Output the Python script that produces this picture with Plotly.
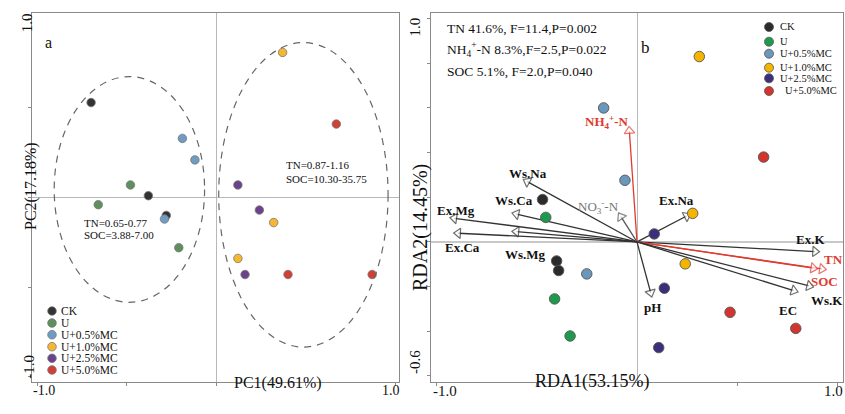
import plotly.graph_objects as go

W, H = 845, 414
SERIF = "Liberation Serif, Times New Roman, serif"
SANS = "Liberation Sans Narrow, Liberation Sans, Arial, sans-serif"

groups = ["CK", "U", "U+0.5%MC", "U+1.0%MC", "U+2.5%MC", "U+5.0%MC"]
colors_a = ["#333333", "#5e8f5c", "#6f9cc2", "#f5b731", "#6b438c", "#d23f35"]
colors_b = ["#2b2b2b", "#1e9a4c", "#6b97bb", "#f4b400", "#3b2f7c", "#d3352e"]

# Panel a: PCA scores
pc1 = {
    "CK": [-0.70, -0.38, -0.28],
    "U": [-0.48, -0.66, -0.21],
    "U+0.5%MC": [-0.19, -0.12, -0.29],
    "U+1.0%MC": [0.37, 0.32, 0.12],
    "U+2.5%MC": [0.12, 0.24, 0.16],
    "U+5.0%MC": [0.67, 0.40, 0.87],
}
pc2 = {
    "CK": [0.53, 0.01, -0.10],
    "U": [0.07, -0.04, -0.28],
    "U+0.5%MC": [0.33, 0.21, -0.12],
    "U+1.0%MC": [0.81, -0.14, -0.34],
    "U+2.5%MC": [0.07, -0.07, -0.43],
    "U+5.0%MC": [0.41, -0.43, -0.43],
}
# confidence ellipses (center x, center y, radius x, radius y)
ellipse_cx = [-0.486, 0.486]
ellipse_cy = [0.045, 0.015]
ellipse_rx = [0.42, 0.473]
ellipse_ry = [0.63, 0.85]

# Panel b: RDA sample scores
rda1 = {
    "CK": [-0.47, -0.40, -0.39],
    "U": [-0.454, -0.41, -0.333],
    "U+0.5%MC": [-0.166, -0.06, -0.25],
    "U+1.0%MC": [0.31, 0.277, 0.24],
    "U+2.5%MC": [0.086, 0.136, 0.108],
    "U+5.0%MC": [0.63, 0.463, 0.79],
}
rda2 = {
    "CK": [0.19, -0.085, -0.128],
    "U": [0.11, -0.255, -0.421],
    "U+0.5%MC": [0.60, 0.276, -0.143],
    "U+1.0%MC": [0.83, 0.128, -0.098],
    "U+2.5%MC": [0.036, -0.207, -0.473],
    "U+5.0%MC": [0.38, -0.315, -0.387],
}
# environmental variable arrows
env_names = ["NH<sub>4</sub><sup>+</sup>-N", "Ws.Na", "Ws.Ca", "NO<sub>3</sub><sup>-</sup>-N", "Ex.Mg",
             "Ex.Ca", "Ws.Mg", "Ex.Na", "pH", "Ex.K", "TN", "SOC", "Ws.K", "EC"]
env_x = [-0.038, -0.546, -0.60, -0.08, -0.909, -0.89, -0.60, 0.247, 0.068, 0.886, 0.92, 0.877, 0.857, 0.78]
env_y = [0.497, 0.27, 0.125, 0.113, 0.106, 0.039, 0.046, 0.116, -0.227, -0.043, -0.121, -0.117, -0.197, -0.218]
env_lab_x = [-0.151, -0.541, -0.612, -0.194, -0.900, -0.866, -0.557, 0.199, 0.076, 0.861, 0.977, 0.935, 0.947, 0.753]
env_lab_y = [0.539, 0.308, 0.185, 0.158, 0.143, -0.024, -0.054, 0.184, -0.292, 0.012, -0.077, -0.175, -0.26, -0.305]
env_sig = [True, False, False, False, False, False, False, False, False, False, True, True, False, False]
env_minor = [False, False, False, True, False, False, False, False, False, False, False, False, False, False]

stats_lines = ["TN 41.6%, F=11.4,P=0.002",
               "NH<sub>4</sub><sup>+</sup>-N 8.3%,F=2.5,P=0.022",
               "SOC 5.1%, F=2.0,P=0.040"]

xa_ticks = [-1.0, -0.5, 0, 0.5, 1.0]
ya_ticks = [-1.0, -0.5, 0, 0.5, 1.0]
xb_ticks = [-1.0, -0.5, 0, 0.5, 1.0]
yb_ticks = [-0.6, -0.4, -0.2, 0, 0.2, 0.4, 0.6, 0.8, 1.0]

RED = "#e03b30"
DARK = "#333333"

def px(x):
    return x / W

def py(y):
    return 1 - y / H

fig = go.Figure()

# arrows (panel b)
for i, nm in enumerate(env_names):
    col = RED if env_sig[i] else ("#555555" if env_minor[i] else DARK)
    fig.add_trace(go.Scatter(
        x=[0, env_x[i]], y=[0, env_y[i]], xaxis="x2", yaxis="y2",
        mode="lines+markers", showlegend=False, hoverinfo="skip",
        line=dict(color=col, width=1.3),
        marker=dict(symbol="triangle-up", size=[0, 9], angleref="previous",
                    color="white", line=dict(color=col, width=1.2)),
    ))

# points
for g, ca, cb in zip(groups, colors_a, colors_b):
    fig.add_trace(go.Scatter(
        x=pc1[g], y=pc2[g], xaxis="x", yaxis="y", mode="markers", name=g,
        showlegend=False,
        marker=dict(size=8.5, color=ca, line=dict(color="#777777", width=0.8)),
    ))
    fig.add_trace(go.Scatter(
        x=rda1[g], y=rda2[g], xaxis="x2", yaxis="y2", mode="markers", name=g,
        showlegend=False,
        marker=dict(size=10.5, color=cb, line=dict(color="#555555", width=0.9)),
    ))

shapes = []
for cx, cy, rx, ry in zip(ellipse_cx, ellipse_cy, ellipse_rx, ellipse_ry):
    shapes.append(dict(type="circle", xref="x", yref="y",
                       x0=cx - rx, x1=cx + rx, y0=cy - ry, y1=cy + ry,
                       line=dict(color="#666666", width=1.2, dash="7px,6px")))

annotations = []

# legends drawn manually
leg_a_y = [311, 323, 334.7, 346.7, 358.3, 370]
leg_b_y = [27, 41.7, 53.7, 67.7, 78.3, 91]
for g, ca, cb, ya, yb in zip(groups, colors_a, colors_b, leg_a_y, leg_b_y):
    shapes.append(dict(type="circle", xref="paper", yref="paper",
                       xsizemode="pixel", ysizemode="pixel",
                       xanchor=px(52), yanchor=py(ya), x0=-4.3, x1=4.3, y0=-4.3, y1=4.3,
                       fillcolor=ca, line=dict(color="#777777", width=0.8)))
    annotations.append(dict(text=g, xref="paper", yref="paper", x=px(59), y=py(ya),
                            xanchor="left", yanchor="middle", showarrow=False,
                            font=dict(family=SERIF, size=11.5, color="#111111")))
    shapes.append(dict(type="circle", xref="paper", yref="paper",
                       xsizemode="pixel", ysizemode="pixel",
                       xanchor=px(769), yanchor=py(yb), x0=-4.5, x1=4.5, y0=-4.5, y1=4.5,
                       fillcolor=cb, line=dict(color="#555555", width=0.8)))
    annotations.append(dict(text=g, xref="paper", yref="paper",
                            x=px(782.5 if g == "U+5.0%MC" else 778), y=py(yb),
                            xanchor="left", yanchor="middle", showarrow=False,
                            font=dict(family=SERIF, size=10.5, color="#111111")))

# ellipse texts
for t, x, y in [("TN=0.87-1.16", 0.38, 0.179), ("SOC=10.30-35.75", 0.38, 0.106),
                ("TN=0.65-0.77", -0.749, -0.14), ("SOC=3.88-7.00", -0.749, -0.212)]:
    annotations.append(dict(text=t, xref="x", yref="y", x=x, y=y, xanchor="left",
                            yanchor="middle", showarrow=False,
                            font=dict(family=SERIF, size=11, color="#111111")))

# env labels
for i, nm in enumerate(env_names):
    if env_minor[i]:
        txt, col = nm, "#777777"
    else:
        txt, col = "<b>" + nm + "</b>", (RED if env_sig[i] else "#111111")
    annotations.append(dict(text=txt, xref="x2", yref="y2", x=env_lab_x[i], y=env_lab_y[i],
                            xanchor="center", yanchor="middle", showarrow=False,
                            font=dict(family=SERIF, size=13, color=col)))

# stats text
for t, y in zip(stats_lines, [28.3, 49.3, 71.7]):
    annotations.append(dict(text=t, xref="paper", yref="paper", x=px(445), y=py(y),
                            xanchor="left", yanchor="middle", showarrow=False,
                            font=dict(family=SERIF, size=13.5, color="#111111")))

# panel letters
annotations.append(dict(text="a", xref="paper", yref="paper", x=px(43), y=py(32),
                        showarrow=False, font=dict(family=SERIF, size=16, color="#111111")))
annotations.append(dict(text="b", xref="paper", yref="paper", x=px(652), y=py(36),
                        showarrow=False, font=dict(family=SERIF, size=17, color="#111111")))

# axis titles
annotations += [
    dict(text="PC1(49.61%)", xref="paper", yref="paper", x=px(232), y=py(394),
         showarrow=False, font=dict(family=SERIF, size=16, color="#111111")),
    dict(text="RDA1(53.15%)", xref="paper", yref="paper", x=px(652), y=py(394),
         showarrow=False, font=dict(family=SERIF, size=18, color="#111111")),
    dict(text="PC2(17.18%)", xref="paper", yref="paper", x=px(20), y=py(186),
         textangle=-90, showarrow=False, font=dict(family=SERIF, size=16, color="#111111")),
    dict(text="RDA2(14.45%)", xref="paper", yref="paper", x=px(420), y=py(228),
         textangle=-90, showarrow=False, font=dict(family=SERIF, size=20, color="#111111")),
]

# tick labels (end ticks only, as in the original)
def tick_fmt(v):
    return "%.1f" % v

annotations += [
    dict(text=tick_fmt(xa_ticks[0]), xref="x", yref="paper", x=xa_ticks[0], xshift=7,
         y=py(400), showarrow=False, font=dict(family=SERIF, size=14, color="#111111")),
    dict(text=tick_fmt(xa_ticks[-1]), xref="x", yref="paper", x=xa_ticks[-1], xshift=-4,
         y=py(400), showarrow=False, font=dict(family=SERIF, size=14, color="#111111")),
    dict(text=tick_fmt(xb_ticks[0]), xref="x2", yref="paper", x=xb_ticks[0], xshift=9,
         y=py(401), showarrow=False, font=dict(family=SERIF, size=15, color="#111111")),
    dict(text=tick_fmt(xb_ticks[-1]), xref="x2", yref="paper", x=xb_ticks[-1], xshift=-4,
         y=py(401), showarrow=False, font=dict(family=SERIF, size=15, color="#111111")),
    dict(text=tick_fmt(ya_ticks[-1]), xref="paper", yref="y", x=px(17), y=ya_ticks[-1], yshift=-5,
         textangle=-90, showarrow=False, font=dict(family=SERIF, size=15, color="#111111")),
    dict(text=tick_fmt(ya_ticks[0]), xref="paper", yref="y", x=px(19), y=ya_ticks[0], yshift=10,
         textangle=-90, showarrow=False, font=dict(family=SERIF, size=15, color="#111111")),
    dict(text=tick_fmt(yb_ticks[-1]), xref="paper", yref="y2", x=px(415), y=yb_ticks[-1], yshift=-9,
         textangle=-90, showarrow=False, font=dict(family=SERIF, size=15, color="#111111")),
    dict(text=tick_fmt(yb_ticks[0]), xref="paper", yref="y2", x=px(415), y=yb_ticks[0], yshift=14,
         textangle=-90, showarrow=False, font=dict(family=SERIF, size=15, color="#111111")),
]

FRAME = "#8a8a8a"
axis_common = dict(showgrid=False, showline=True, mirror=True, linecolor=FRAME, linewidth=1.2,
                   ticks="outside", ticklen=3, tickcolor=FRAME, showticklabels=False,
                   zeroline=True, zerolinecolor="#b8b8b8", zerolinewidth=1)

dom_y = [py(382), py(13)]
fig.update_layout(
    width=W, height=H, autosize=False,
    margin=dict(l=0, r=0, t=0, b=0),
    paper_bgcolor="white", plot_bgcolor="white",
    showlegend=False,
    xaxis=dict(domain=[px(32), px(399)], range=[-1.03, 1.02], tickvals=xa_ticks,
               anchor="y", **axis_common),
    yaxis=dict(domain=dom_y, range=[-1.03, 1.03], tickvals=ya_ticks, anchor="x", **axis_common),
    xaxis2=dict(domain=[px(431), px(843)], range=[-1.025, 1.025], tickvals=xb_ticks,
                anchor="y2", **axis_common),
    yaxis2=dict(domain=dom_y, range=[-0.627, 1.025], tickvals=yb_ticks, anchor="x2",
                **{**axis_common, "zerolinewidth": 1.8, "zerolinecolor": "#c8c8c8"}),
    shapes=shapes,
    annotations=annotations,
)

fig.write_html("out.html")
